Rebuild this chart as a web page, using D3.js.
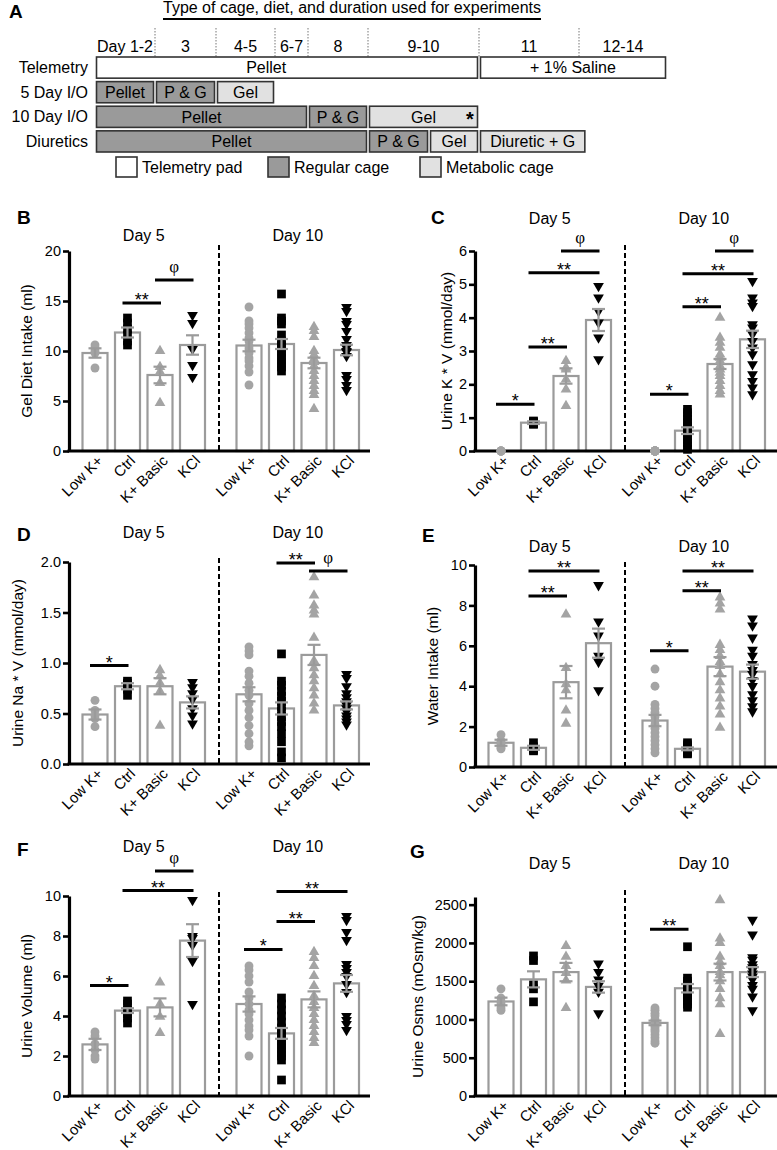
<!DOCTYPE html>
<html><head><meta charset="utf-8">
<script src="https://cdn.jsdelivr.net/npm/d3@7"></script>
<style>body{margin:0;background:#fff}</style>
</head><body><svg id="chart" width="777" height="1150"></svg>
<script>
// ================= DATA =================
// ---- Panel A: timeline ----
const timelineTitle = "Type of cage, diet, and duration used for experiments";
const timelineHeaders = ["Day 1-2", "3", "4-5", "6-7", "8", "9-10", "11", "12-14"];
const timelineBounds = [1, 3, 4, 6, 8, 9, 11, 12, 15];           // day boundaries of header columns
const timelineRows = ["Telemetry", "5 Day I/O", "10 Day I/O", "Diuretics"];
const timelineBoxes = [
  {row: "Telemetry",  from: 1,    to: 11,    label: "Pellet",       cage: "pad", labelAt: 5.7},
  {row: "Telemetry",  from: 11,   to: 15,    label: "+ 1% Saline",  cage: "pad"},
  {row: "5 Day I/O",  from: 1,    to: 3,     label: "Pellet",       cage: "regular"},
  {row: "5 Day I/O",  from: 3,    to: 4,     label: "P & G",        cage: "regular"},
  {row: "5 Day I/O",  from: 4,    to: 6,     label: "Gel",          cage: "metabolic"},
  {row: "10 Day I/O", from: 1,    to: 8,     label: "Pellet",       cage: "regular"},
  {row: "10 Day I/O", from: 8,    to: 9,     label: "P & G",        cage: "regular"},
  {row: "10 Day I/O", from: 9,    to: 11,    label: "Gel",          cage: "metabolic", mark: "*"},
  {row: "Diuretics",  from: 1,    to: 9,     label: "Pellet",       cage: "regular"},
  {row: "Diuretics",  from: 9,    to: 10.1,  label: "P & G",        cage: "regular"},
  {row: "Diuretics",  from: 10.1, to: 11,    label: "Gel",          cage: "metabolic"},
  {row: "Diuretics",  from: 11,   to: 12.25, label: "Diuretic + G", cage: "metabolic"}
];
const cageTypes = ["pad", "regular", "metabolic"];
const cageLabels = ["Telemetry pad", "Regular cage", "Metabolic cage"];

// ---- Panels B-G: shared categories ----
const groups = ["Low K+", "Ctrl", "K+ Basic", "KCl"];
const days = ["Day 5", "Day 10"];

// ---- B: Gel diet intake (ml) ----
const gelTicks = [0, 5, 10, 15, 20];
const gelMean = [[9.8, 11.85, 7.6, 10.6], [10.55, 10.7, 8.8, 10.1]];
const gelSem  = [[0.47, 0.5, 0.83, 0.97], [0.58, 0.5, 0.53, 0.53]];
const gelPoints = [
  [[10.6, 10.3, 10.0, 9.8, 8.3],
   [13.3, 12.8, 12.2, 11.6, 11.0, 10.6],
   [10.0, 8.4, 7.9, 6.8, 4.8],
   [13.6, 12.8, 10.2, 8.6, 7.4]],
  [[14.4, 13.0, 12.7, 12.3, 11.8, 11.3, 11.0, 10.5, 10.2, 9.8, 9.3, 9.0, 8.5, 7.9, 6.6],
   [15.7, 13.3, 13.0, 12.7, 11.6, 11.0, 10.6, 10.4, 10.0, 9.6, 9.2, 8.8, 8.4, 8.0],
   [12.4, 12.0, 11.4, 10.0, 9.6, 9.2, 8.9, 8.5, 8.0, 7.5, 7.0, 6.5, 6.0, 5.6, 4.2],
   [14.4, 14.0, 13.0, 12.7, 12.0, 11.2, 10.6, 10.3, 10.0, 9.9, 9.5, 7.6, 7.2, 6.6, 6.1]]
];
const gelSig = [[0, 1, 2, 14.8, "**"], [0, 2, 3, 17.1, "φ"]];

// ---- C: Urine K * V (mmol/day) ----
const ukTicks = [0, 1, 2, 3, 4, 5, 6];
const ukMean = [[0, 0.85, 2.25, 3.93], [0, 0.61, 2.61, 3.35]];
const ukSem  = [[0, 0.04, 0.23, 0.33], [0, 0.1, 0.15, 0.26]];
const ukPoints = [
  [[0, 0, 0, 0, 0],
   [0.9, 0.87, 0.85, 0.82, 0.8],
   [2.7, 2.5, 2.45, 2.15, 1.85, 1.35],
   [4.95, 4.6, 4.2, 3.85, 3.4, 2.75]],
  [[0, 0, 0, 0, 0, 0, 0, 0, 0, 0, 0, 0, 0, 0, 0],
   [1.25, 1.15, 1.05, 0.95, 0.85, 0.75, 0.7, 0.65, 0.55, 0.45, 0.35, 0.25, 0.15, 0.05],
   [4.0, 3.4, 3.25, 3.1, 2.9, 2.8, 2.7, 2.55, 2.45, 2.35, 2.25, 2.1, 1.95, 1.8, 1.7],
   [5.1, 4.6, 4.45, 4.35, 3.8, 3.7, 3.5, 3.3, 3.1, 2.9, 2.6, 2.3, 2.1, 1.9, 1.7]]
];
const ukSig = [[0, 0, 1, 1.4, "*"], [0, 1, 2, 3.12, "**"], [0, 1, 3, 5.35, "**"], [0, 2, 3, 6.0, "φ"],
               [1, 0, 1, 1.7, "*"], [1, 1, 2, 4.33, "**"], [1, 1, 3, 5.32, "**"], [1, 2, 3, 6.0, "φ"]];

// ---- D: Urine Na * V (mmol/day) ----
const unaTicks = [0, 0.5, 1.0, 1.5, 2.0];
const unaMean = [[0.49, 0.77, 0.77, 0.61], [0.69, 0.55, 1.08, 0.58]];
const unaSem  = [[0.05, 0.03, 0.08, 0.06], [0.07, 0.06, 0.1, 0.04]];
const unaPoints = [
  [[0.63, 0.53, 0.48, 0.45, 0.37],
   [0.82, 0.8, 0.78, 0.74, 0.68],
   [0.93, 0.87, 0.8, 0.72, 0.38],
   [0.81, 0.76, 0.7, 0.64, 0.55, 0.48, 0.4]],
  [[1.16, 1.12, 1.08, 0.92, 0.87, 0.8, 0.73, 0.68, 0.6, 0.53, 0.46, 0.38, 0.3, 0.22, 0.18],
   [1.09, 0.82, 0.78, 0.72, 0.67, 0.62, 0.57, 0.52, 0.47, 0.42, 0.37, 0.3, 0.22, 0.12, 0.06],
   [1.85, 1.67, 1.57, 1.52, 1.48, 1.25, 1.02, 0.95, 0.88, 0.82, 0.75, 0.68, 0.6, 0.53],
   [0.89, 0.85, 0.77, 0.7, 0.66, 0.62, 0.58, 0.55, 0.52, 0.48, 0.45, 0.42, 0.39]]
];
const unaSig = [[0, 0, 1, 0.975, "*"], [1, 1, 2, 1.99, "**"], [1, 2, 3, 1.91, "φ"]];

// ---- E: Water intake (ml) ----
const waterTicks = [0, 2, 4, 6, 8, 10];
const waterMean = [[1.2, 0.95, 4.2, 6.13], [2.3, 0.9, 4.97, 4.72]];
const waterSem  = [[0.15, 0.1, 0.8, 0.72], [0.28, 0.07, 0.47, 0.35]];
const waterPoints = [
  [[1.6, 1.3, 1.2, 1.1, 0.95, 0.9],
   [1.2, 1.0, 0.9, 0.85, 0.8],
   [7.55, 4.9, 4.1, 3.8, 2.8, 2.15],
   [9.0, 7.2, 6.5, 5.5, 5.2, 3.8]],
  [[4.85, 4.0, 3.1, 2.9, 2.7, 2.5, 2.3, 2.1, 1.9, 1.7, 1.5, 1.3, 1.1, 0.9, 0.7],
   [1.2, 1.1, 1.0, 0.95, 0.9, 0.85, 0.8, 0.75, 0.7, 0.65],
   [8.4, 8.1, 7.8, 6.05, 5.8, 5.5, 5.2, 5.0, 4.6, 4.2, 3.8, 3.4, 3.0, 2.6, 1.95],
   [7.35, 7.0, 6.4, 5.8, 5.5, 5.1, 4.8, 4.6, 4.3, 4.0, 3.6, 3.3, 3.0, 2.75]]
];
const waterSig = [[0, 1, 3, 9.7, "**"], [0, 1, 2, 8.47, "**"], [1, 1, 3, 9.7, "**"], [1, 1, 2, 8.72, "**"], [1, 0, 1, 5.75, "*"]];

// ---- F: Urine volume (ml) ----
const uvTicks = [0, 2, 4, 6, 8, 10];
const uvMean = [[2.58, 4.27, 4.43, 7.77], [4.6, 3.13, 4.83, 5.63]];
const uvSem  = [[0.28, 0.12, 0.45, 0.82], [0.38, 0.27, 0.4, 0.42]];
const uvPoints = [
  [[3.2, 3.0, 2.6, 2.3, 2.0, 1.85],
   [4.75, 4.6, 4.3, 4.1, 3.9, 3.65],
   [5.68, 4.6, 3.97, 3.15],
   [9.8, 8.0, 7.9, 7.55, 6.75, 4.6]],
  [[6.5, 6.3, 6.0, 5.7, 5.2, 4.9, 4.6, 4.3, 4.1, 3.8, 3.5, 3.3, 3.0, 2.0],
   [4.9, 4.6, 4.3, 4.0, 3.7, 3.4, 3.2, 3.0, 2.8, 2.6, 2.4, 2.2, 2.0, 1.8, 0.8],
   [7.2, 6.9, 6.5, 6.0, 5.5, 5.0, 4.7, 4.4, 4.1, 3.8, 3.5, 3.2, 2.9, 2.65],
   [9.0, 8.8, 8.2, 7.8, 6.6, 6.4, 6.2, 6.0, 5.6, 5.2, 4.0, 3.8, 3.6, 3.3]]
];
const uvSig = [[0, 0, 1, 5.52, "*"], [0, 1, 3, 10.27, "**"], [0, 2, 3, 11.25, "φ"],
               [1, 0, 1, 7.33, "*"], [1, 1, 2, 8.72, "**"], [1, 1, 3, 10.22, "**"]];

// ---- G: Urine osmolality (mOsm/kg) ----
const osmTicks = [0, 500, 1000, 1500, 2000, 2500];
const osmMean = [[1235, 1524, 1619, 1425], [955, 1408, 1619, 1619]];
const osmSem  = [[50, 105, 120, 75], [30, 55, 110, 65]];
const osmPoints = [
  [[1400, 1280, 1230, 1200, 1150, 1120],
   [1830, 1770, 1450, 1400, 1230],
   [1960, 1820, 1700, 1610, 1510, 1150],
   [1730, 1620, 1520, 1440, 1360, 1080]],
  [[1150, 1120, 1080, 1050, 1000, 980, 950, 920, 900, 870, 840, 800, 760, 720, 690],
   [1950, 1540, 1500, 1470, 1440, 1420, 1400, 1380, 1350, 1320, 1280, 1240, 1200, 1160],
   [2560, 2060, 2000, 1820, 1750, 1700, 1620, 1580, 1500, 1400, 1280, 1200, 810],
   [2300, 2110, 1810, 1780, 1720, 1680, 1640, 1600, 1560, 1520, 1450, 1400, 1300, 1120]]
];
const osmSig = [[1, 0, 1, 2180, "**"]];

// ================= DRAWING =================
const svg = d3.select("#chart");
const SANS = '"Liberation Sans", Arial, Helvetica, sans-serif';
const SERIF = '"Liberation Serif", "Times New Roman", serif';
const BARGREY = "#9b9b9b";
const PTGREY = "#a4a4a4";

// ---------- Panel A ----------
(function drawTimeline() {
  const g = svg.append("g").attr("font-family", SANS);
  const tx = d3.scaleLinear().domain(timelineBounds).range([95, 155, 216, 275, 308, 368, 479, 579, 667]);
  const ty = d3.scaleBand().domain(timelineRows).range([57, 152]).paddingInner(0.14);
  const fill = d3.scaleOrdinal().domain(cageTypes).range(["#ffffff", "#9a9a9a", "#e1e1e1"]);

  g.append("text").attr("x", 9).attr("y", 18).attr("font-size", 19).attr("font-weight", "bold").text("A");
  const title = g.append("text").attr("x", 352).attr("y", 13).attr("text-anchor", "middle")
    .attr("font-size", 16).text(timelineTitle);
  const tw = title.node().getComputedTextLength();
  g.append("line").attr("x1", 352 - tw / 2).attr("x2", 352 + tw / 2).attr("y1", 19).attr("y2", 19)
    .attr("stroke", "#000").attr("stroke-width", 1.8);

  // dividers
  g.selectAll(".div").data(timelineBounds.slice(1, -1)).join("line")
    .attr("x1", d => tx(d)).attr("x2", d => tx(d)).attr("y1", 28).attr("y2", 57)
    .attr("stroke", "#777").attr("stroke-width", 1).attr("stroke-dasharray", "1.5,1.5");
  // headers
  g.selectAll(".hdr").data(timelineHeaders).join("text")
    .attr("x", (d, i) => (tx(timelineBounds[i]) + tx(timelineBounds[i + 1])) / 2)
    .attr("y", 52).attr("text-anchor", "middle").attr("font-size", 16).text(d => d);
  // row labels
  g.selectAll(".row").data(timelineRows).join("text")
    .attr("x", 88).attr("y", d => ty(d) + ty.bandwidth() / 2).attr("dy", "0.35em")
    .attr("text-anchor", "end").attr("font-size", 16).text(d => d);
  // boxes
  const bx = g.selectAll(".box").data(timelineBoxes).join("g");
  bx.append("rect")
    .attr("x", d => tx(d.from) + 1.5).attr("width", d => tx(d.to) - tx(d.from) - 3)
    .attr("y", d => ty(d.row)).attr("height", ty.bandwidth())
    .attr("fill", d => fill(d.cage)).attr("stroke", "#333").attr("stroke-width", 1.6);
  bx.append("text")
    .attr("x", d => d.labelAt ? tx(d.labelAt) : (tx(d.from) + tx(d.to)) / 2)
    .attr("y", d => ty(d.row) + ty.bandwidth() / 2).attr("dy", "0.36em")
    .attr("text-anchor", "middle").attr("font-size", 16).text(d => d.label);
  bx.filter(d => d.mark).append("text")
    .attr("x", d => tx(d.to) - 9).attr("y", d => ty(d.row) + ty.bandwidth() / 2 + 9)
    .attr("text-anchor", "middle").attr("font-size", 20).attr("font-weight", "bold").text(d => d.mark);
  // legend
  const lx = d3.scalePoint().domain(cageTypes).range([116, 420]);
  const lg = g.selectAll(".leg").data(cageTypes).join("g").attr("transform", d => `translate(${lx(d)},157)`);
  lg.append("rect").attr("width", 21).attr("height", 20).attr("fill", d => fill(d))
    .attr("stroke", "#333").attr("stroke-width", 1.6);
  lg.append("text").attr("x", 26).attr("y", 10).attr("dy", "0.36em").attr("font-size", 16)
    .text((d, i) => cageLabels[i]);
})();

// ---------- Panels B-G ----------
const markers = d3.scaleOrdinal().domain(groups).range([
  {type: d3.symbolCircle, size: 62, color: PTGREY, rot: 0},
  {type: d3.symbolSquare, size: 76, color: "#000", rot: 0},
  {type: d3.symbolTriangle, size: 50, color: PTGREY, rot: 0},
  {type: d3.symbolTriangle, size: 50, color: "#000", rot: 180}
]);

function drawPanel(cfg, means, sems, points, sig) {
  const g = svg.append("g").attr("font-family", SANS);
  const y = d3.scaleLinear().domain(cfg.domain).range([cfg.bottom, cfg.top]);
  const xDay = [
    d3.scalePoint().domain(groups).range([cfg.x0 + 26, cfg.x0 + 123.5]),
    d3.scalePoint().domain(groups).range([cfg.x0 + 180, cfg.x0 + 277.5])
  ];
  const bw = 25;

  // bars
  days.forEach((day, k) => {
    g.append("g").selectAll("rect").data(groups.filter((gr, i) => means[k][i] > 0)).join("rect")
      .attr("x", gr => xDay[k](gr) - bw / 2).attr("width", bw)
      .attr("y", gr => y(means[k][groups.indexOf(gr)]))
      .attr("height", gr => cfg.bottom - y(means[k][groups.indexOf(gr)]))
      .attr("fill", "#fff").attr("stroke", BARGREY).attr("stroke-width", 2.2);
  });

  // divider
  g.append("line").attr("x1", cfg.x0 + 150).attr("x2", cfg.x0 + 150)
    .attr("y1", cfg.divTop).attr("y2", cfg.bottom)
    .attr("stroke", "#000").attr("stroke-width", 2).attr("stroke-dasharray", "5,3");

  // axes
  const ax = g.append("g").attr("transform", `translate(${cfg.x0},0)`)
    .call(d3.axisLeft(y).tickValues(cfg.ticks).tickFormat(cfg.fmt).tickSize(6).tickSizeOuter(0).tickPadding(2));
  ax.select(".domain").attr("stroke-width", 3.2);
  ax.selectAll(".tick line").attr("stroke-width", 2.6);
  ax.selectAll(".tick text").attr("font-size", 14.5).attr("font-family", SANS).attr("fill", "#000");
  g.append("line").attr("x1", cfg.x0 - 1.5).attr("x2", cfg.xEnd).attr("y1", cfg.bottom).attr("y2", cfg.bottom)
    .attr("stroke", "#000").attr("stroke-width", 3.2);

  // points
  days.forEach((day, k) => {
    groups.forEach((gr, i) => {
      const m = markers(gr);
      g.append("g").selectAll("path").data(points[k][i]).join("path")
        .attr("d", d3.symbol().type(m.type).size(m.size))
        .attr("transform", v => `translate(${xDay[k](gr)},${y(v)}) rotate(${m.rot})`)
        .attr("fill", m.color);
    });
  });

  // error bars
  days.forEach((day, k) => {
    groups.forEach((gr, i) => {
      if (sems[k][i] <= 0) return;
      const cx = xDay[k](gr), lo = y(means[k][i] - sems[k][i]), hi = y(means[k][i] + sems[k][i]);
      const eg = g.append("g").attr("stroke", BARGREY).attr("stroke-width", 2.2);
      eg.append("line").attr("x1", cx).attr("x2", cx).attr("y1", lo).attr("y2", hi);
      eg.append("line").attr("x1", cx - 6.5).attr("x2", cx + 6.5).attr("y1", lo).attr("y2", lo);
      eg.append("line").attr("x1", cx - 6.5).attr("x2", cx + 6.5).attr("y1", hi).attr("y2", hi);
    });
  });

  // significance bars
  sig.forEach(([k, a, b, v, lab]) => {
    const x1 = xDay[k](groups[a]) - 5, x2 = xDay[k](groups[b]) + 1, yy = y(v);
    g.append("line").attr("x1", x1).attr("x2", x2).attr("y1", yy).attr("y2", yy)
      .attr("stroke", "#000").attr("stroke-width", 3);
    if (lab === "φ") {
      g.append("text").attr("x", (x1 + x2) / 2).attr("y", yy - 8).attr("text-anchor", "middle")
        .attr("font-family", SERIF).attr("font-size", 17).text(lab);
    } else {
      g.append("text").attr("x", (x1 + x2) / 2).attr("y", yy + 3).attr("text-anchor", "middle")
        .attr("font-size", 18).text(lab);
    }
  });

  // x labels
  days.forEach((day, k) => {
    g.append("g").selectAll("text").data(groups).join("text")
      .attr("transform", gr => `translate(${xDay[k](gr) + 5},${cfg.bottom + 7}) rotate(-45)`)
      .attr("text-anchor", "end").attr("dy", "0.35em").attr("font-size", 15).text(gr => gr);
    // day titles
    g.append("text").attr("x", (xDay[k].range()[0] + xDay[k].range()[1]) / 2).attr("y", cfg.titleY)
      .attr("text-anchor", "middle").attr("font-size", 16).text(day);
  });

  // y label
  g.append("text").attr("transform", `translate(${cfg.ylx},${(cfg.top + cfg.bottom) / 2}) rotate(-90)`)
    .attr("text-anchor", "middle").attr("dy", "0.35em").attr("font-size", 15.5).text(cfg.ylabel);
  // panel letter
  g.append("text").attr("x", cfg.lx).attr("y", cfg.ly).attr("font-size", 19).attr("font-weight", "bold").text(cfg.letter);
}

drawPanel({x0: 69, xEnd: 370, top: 251, bottom: 451, domain: [0, 20], ticks: gelTicks, fmt: d3.format("d"),
  ylabel: "Gel Diet Intake (ml)", ylx: 27, letter: "B", lx: 17, ly: 224, titleY: 241, divTop: 245},
  gelMean, gelSem, gelPoints, gelSig);
drawPanel({x0: 475, xEnd: 777, top: 251, bottom: 451, domain: [0, 6], ticks: ukTicks, fmt: d3.format("d"),
  ylabel: "Urine K * V (mmol/day)", ylx: 447, letter: "C", lx: 431, ly: 224, titleY: 224, divTop: 245},
  ukMean, ukSem, ukPoints, ukSig);
drawPanel({x0: 69, xEnd: 370, top: 562, bottom: 764, domain: [0, 2], ticks: unaTicks, fmt: d3.format(".1f"),
  ylabel: "Urine Na * V (mmol/day)", ylx: 18, letter: "D", lx: 17, ly: 541, titleY: 538, divTop: 558},
  unaMean, unaSem, unaPoints, unaSig);
drawPanel({x0: 475, xEnd: 777, top: 565, bottom: 767, domain: [0, 10], ticks: waterTicks, fmt: d3.format("d"),
  ylabel: "Water Intake (ml)", ylx: 433, letter: "E", lx: 422, ly: 542, titleY: 552, divTop: 562},
  waterMean, waterSem, waterPoints, waterSig);
drawPanel({x0: 69, xEnd: 370, top: 896, bottom: 1096, domain: [0, 10], ticks: uvTicks, fmt: d3.format("d"),
  ylabel: "Urine Volume (ml)", ylx: 27, letter: "F", lx: 17, ly: 856, titleY: 852, divTop: 892},
  uvMean, uvSem, uvPoints, uvSig);
drawPanel({x0: 475, xEnd: 777, top: 897, bottom: 1096, domain: [0, 2600], ticks: osmTicks, fmt: d3.format("d"),
  ylabel: "Urine Osms (mOsm/kg)", ylx: 418, letter: "G", lx: 410, ly: 858, titleY: 869, divTop: 890},
  osmMean, osmSem, osmPoints, osmSig);
</script>
</body></html>
